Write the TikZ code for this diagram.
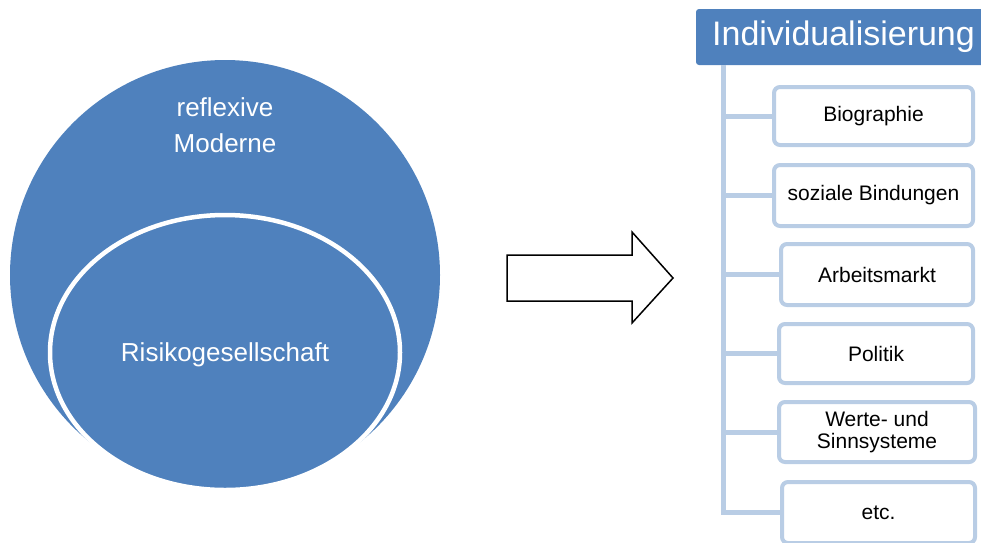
\documentclass[tikz,border=0pt]{standalone}
\usepackage{fontspec}
\setmainfont{Liberation Sans}
\definecolor{accblue}{RGB}{79,129,189}
\definecolor{lineblue}{RGB}{185,205,229}
\begin{document}
\begin{tikzpicture}[x=1pt,y=-1pt,
  itembox/.style={draw=lineblue,line width=4pt,fill=white,rounded corners=6pt,
    inner sep=0pt,align=center,font=\fontsize{21}{22}\selectfont,text=black},
  conn/.style={draw=lineblue,line width=5pt},
  circtext/.style={text=white,align=center,font=\fontsize{26}{36}\selectfont}]
\useasboundingbox (0,0) rectangle (981,542);
\clip (0,0) rectangle (981,542);
% left: circles
\fill[accblue] (225,275) circle [radius=215pt];
\filldraw[fill=accblue,draw=white,line width=4.5pt] (225,352.5) ellipse [x radius=175pt,y radius=137.5pt];
\node[circtext] (refl) at (225,125) {reflexive\\Moderne};
\node[circtext] (risk) at (225,355) {Risikogesellschaft};
% block arrow
\draw[black,line width=1.5pt,fill=white,line join=miter]
  (507,255) -- (632,255) -- (632,232) -- (673,278) -- (632,323) -- (632,301) -- (507,301) -- cycle;
% right: hierarchy
\node[fill=accblue,rounded corners=3pt,minimum width=295pt,minimum height=56pt,
  text=white,font=\fontsize{34}{34}\selectfont,inner sep=0pt] (hdr) at (843.5,37) {Individualisierung};
\node[itembox,minimum width=199pt,minimum height=58pt] (b1) at (873.5,116) {Biographie};
\node[itembox,minimum width=199pt,minimum height=61pt] (b2) at (873.5,195.5) {soziale Bindungen};
\node[itembox,minimum width=192pt,minimum height=61pt] (b3) at (877,274.5) {Arbeitsmarkt};
\node[itembox,minimum width=194pt,minimum height=59pt] (b4) at (876,353.5) {Politik};
\node[itembox,minimum width=196pt,minimum height=60pt] (b5) at (877,432) {Werte- und\\Sinnsysteme};
\node[itembox,minimum width=193pt,minimum height=61pt] (b6) at (878.5,512.5) {etc.};
\coordinate (trunk) at (723,65);
\draw[conn] (trunk) |- (b6.west);
\foreach \b in {b1,b2,b3,b4,b5}{\draw[conn] (trunk) |- (\b.west);}
\end{tikzpicture}
\end{document}
